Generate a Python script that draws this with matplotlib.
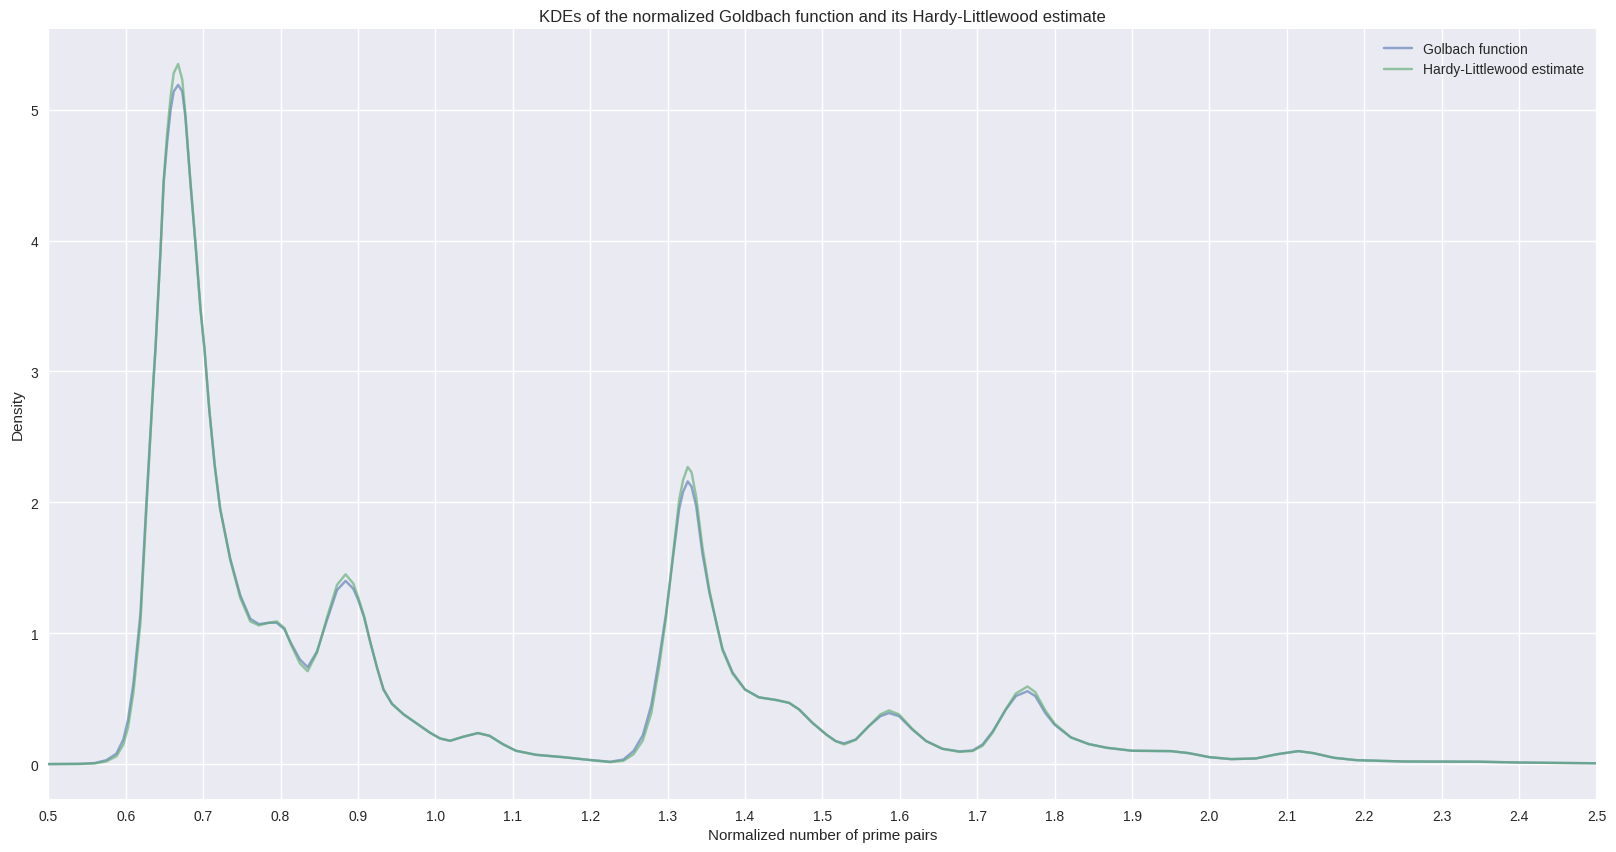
import numpy as np
import matplotlib.pyplot as plt

# values (normalized number of prime pairs -> density)
x_vals = [0.50, 0.54, 0.56, 0.575, 0.588, 0.597, 0.603, 0.610, 0.619, 0.627,
          0.636, 0.6384, 0.645, 0.649, 0.6535, 0.658, 0.662, 0.6677, 0.673, 0.677,
          0.6836, 0.690, 0.6966, 0.7017, 0.708, 0.715, 0.722, 0.735, 0.748, 0.761,
          0.772, 0.785, 0.795, 0.805, 0.813, 0.825, 0.835, 0.847, 0.860, 0.873,
          0.884, 0.894, 0.900, 0.908, 0.916, 0.925, 0.933, 0.944, 0.959, 0.976,
          0.993, 1.006, 1.019, 1.036, 1.055, 1.070, 1.087, 1.104, 1.130, 1.165,
          1.200, 1.226, 1.243, 1.256, 1.268, 1.279, 1.289, 1.298, 1.307, 1.315,
          1.320, 1.326, 1.331, 1.337, 1.345, 1.354, 1.363, 1.371, 1.384, 1.400,
          1.418, 1.440, 1.457, 1.470, 1.487, 1.505, 1.517, 1.528, 1.543, 1.560,
          1.575, 1.586, 1.599, 1.616, 1.634, 1.655, 1.677, 1.694, 1.707, 1.720,
          1.737, 1.750, 1.765, 1.775, 1.788, 1.800, 1.821, 1.844, 1.867, 1.900,
          1.950, 1.973, 2.000, 2.028, 2.060, 2.088, 2.115, 2.134, 2.161, 2.190,
          2.250, 2.350, 2.400, 2.500]

goldbach = [0.000, 0.002, 0.008, 0.030, 0.080, 0.190, 0.340, 0.620, 1.150, 2.030,
            2.950, 3.170, 3.930, 4.440, 4.750, 5.000, 5.140, 5.190, 5.140, 4.950,
            4.440, 3.980, 3.470, 3.170, 2.700, 2.280, 1.950, 1.570, 1.290, 1.110,
            1.070, 1.080, 1.080, 1.030, 0.930, 0.800, 0.740, 0.860, 1.100, 1.330,
            1.400, 1.340, 1.260, 1.120, 0.930, 0.730, 0.570, 0.460, 0.380, 0.310,
            0.240, 0.196, 0.178, 0.209, 0.237, 0.216, 0.153, 0.102, 0.071, 0.053,
            0.031, 0.018, 0.035, 0.100, 0.220, 0.450, 0.800, 1.150, 1.580, 1.950,
            2.080, 2.160, 2.120, 1.970, 1.610, 1.310, 1.080, 0.880, 0.700, 0.570,
            0.510, 0.490, 0.468, 0.417, 0.316, 0.226, 0.176, 0.158, 0.188, 0.290,
            0.366, 0.390, 0.366, 0.265, 0.176, 0.117, 0.097, 0.104, 0.150, 0.250,
            0.417, 0.520, 0.557, 0.520, 0.390, 0.300, 0.204, 0.153, 0.125, 0.102,
            0.099, 0.084, 0.053, 0.038, 0.043, 0.076, 0.099, 0.084, 0.048, 0.030,
            0.020, 0.018, 0.012, 0.006]

hardy_littlewood = [0.000, 0.001, 0.005, 0.020, 0.060, 0.150, 0.280, 0.550, 1.080, 1.980,
                    2.950, 3.170, 3.930, 4.460, 4.820, 5.100, 5.280, 5.350, 5.230, 4.970,
                    4.450, 3.990, 3.480, 3.180, 2.710, 2.280, 1.950, 1.560, 1.270, 1.090,
                    1.060, 1.080, 1.090, 1.040, 0.920, 0.770, 0.710, 0.850, 1.120, 1.370,
                    1.450, 1.380, 1.280, 1.130, 0.930, 0.730, 0.570, 0.460, 0.380, 0.310,
                    0.240, 0.196, 0.178, 0.209, 0.237, 0.216, 0.153, 0.102, 0.071, 0.053,
                    0.031, 0.015, 0.025, 0.075, 0.180, 0.390, 0.740, 1.120, 1.600, 2.020,
                    2.170, 2.270, 2.230, 2.040, 1.660, 1.330, 1.080, 0.870, 0.690, 0.570,
                    0.510, 0.490, 0.468, 0.417, 0.316, 0.226, 0.176, 0.150, 0.185, 0.290,
                    0.380, 0.410, 0.380, 0.270, 0.176, 0.117, 0.093, 0.100, 0.140, 0.240,
                    0.420, 0.540, 0.593, 0.550, 0.410, 0.310, 0.204, 0.153, 0.125, 0.102,
                    0.099, 0.084, 0.053, 0.038, 0.043, 0.076, 0.099, 0.084, 0.048, 0.030,
                    0.020, 0.018, 0.012, 0.006]

x_ticks = np.round(np.arange(0.5, 2.51, 0.1), 1)

plt.style.use('seaborn-v0_8')
plt.rcParams['font.sans-serif'] = ['Liberation Sans', 'Arial', 'DejaVu Sans']

fig = plt.figure(figsize=(16.16, 8.53), dpi=100)
ax = fig.add_axes([0.0299, 0.0621, 0.958, 0.9027])

ax.plot(x_vals, goldbach, color='#4C72B0', alpha=0.6, label='Golbach function')
ax.plot(x_vals, hardy_littlewood, color='#55A868', alpha=0.6, label='Hardy-Littlewood estimate')

ax.set_xlim(0.5, 2.5)
ax.set_ylim(-0.267, 5.617)
ax.set_xticks(x_ticks)
ax.set_xticklabels([f'{t:.1f}' for t in x_ticks])
ax.set_xlabel('Normalized number of prime pairs')
ax.set_ylabel('Density')
ax.set_title('KDEs of the normalized Goldbach function and its Hardy-Littlewood estimate')
ax.legend(loc='upper right')

fig.savefig('out.png', dpi=100)
